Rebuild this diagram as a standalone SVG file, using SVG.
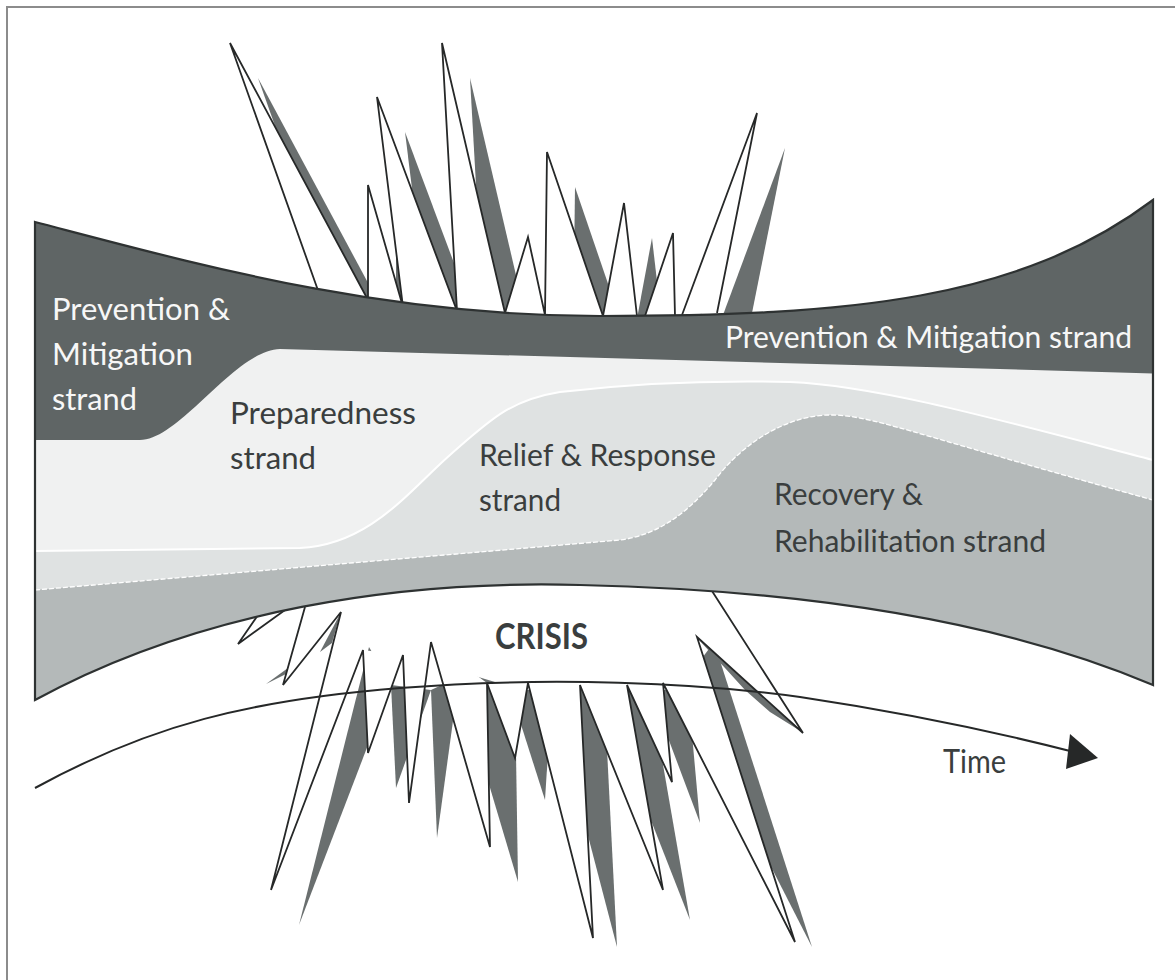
<svg xmlns="http://www.w3.org/2000/svg" width="1175" height="980" viewBox="0 0 1175 980">
<style>
.frame{fill:none;stroke:#8c8c8c;stroke-width:2}
.leg{fill:none;stroke:#262828;stroke-width:1.8}
.outline{fill:none;stroke:#2e3232;stroke-width:2.2}
.shadow{fill:#6a6f6f}
.t{font-family:Lato,"Open Sans","Liberation Sans",sans-serif;font-size:31px;fill:#3a3e3e}
.w{fill:#f7f7f7}
.b{font-weight:bold;font-size:37px}
</style>
<defs>
<g id="utri">
<polygon points="320,296 230,43 368,300"/>
<polygon points="368,300 368,185 403,307"/>
<polygon points="403,307 377,97 457,311"/>
<polygon points="457,311 442,43 505,313"/>
<polygon points="505,313 528,237 545,315"/>
<polygon points="545,315 547,152 603,316"/>
<polygon points="603,316 624,203 637,316"/>
<polygon points="645,316 673,233 675,316"/>
<polygon points="682,315 757,113 717,313"/>
</g>
<g id="ltri">
<polygon points="258,615 238,644 285,610"/>
<polygon points="305,607 283,685 341,612"/>
<polygon points="341,612 271,890 363,650"/>
<polygon points="363,650 368,753 403,655"/>
<polygon points="403,655 409,803 431,642"/>
<polygon points="431,642 490,847 487,683"/>
<polygon points="487,683 515,758 528,683"/>
<polygon points="528,683 593,938 580,685"/>
<polygon points="580,685 663,890 627,685"/>
<polygon points="627,685 672,782 663,683"/>
<polygon points="663,683 795,942 697,637"/>
<polygon points="697,637 803,733 712,591"/>
</g>
<clipPath id="bandclip">
<path d="M35,222 C200,265 380,316 600,316 C850,316 1020,300 1153,200 L1153,685 C1000,620 800,590 580,585 C400,580 200,610 35,700 Z"/>
</clipPath>
</defs>

<path class="frame" d="M7,980 V7 H1175"/>

<g id="upper-spikes">
<use href="#utri" class="shadow" transform="translate(28,35)"/>
<use href="#utri" fill="#ffffff"/>
<polyline class="leg" points="320,296 230,43 368,300 368,185 403,307 377,97 457,311 442,43 505,313 528,237 545,315 547,152 603,316 624,203 637,316"/>
<polyline class="leg" points="645,316 673,233 675,316"/>
<polyline class="leg" points="682,315 757,113 717,313"/>
</g>

<g id="lower-spikes">
<g class="shadow">
<polygon points="266,684 288,668 286,674"/>
<polygon points="340,614 320,652 332,643"/>
<polygon points="369,647 299,925 391,685"/>
<polygon points="391,685 396,788 431,690"/>
<polygon points="431,690 437,838 459,677"/>
<polygon points="455,670 518,882 515,688"/>
<polygon points="510,690 545,800 552,690"/>
<polygon points="550,690 617,947 604,690"/>
<polygon points="600,690 690,920 650,690"/>
<polygon points="650,690 700,823 688,690"/>
<polygon points="680,688 812,947 714,642"/>
</g>
<use href="#ltri" fill="#ffffff"/>
<polygon class="shadow" points="698,639 802,732 770,712 745,690 725,668"/>
<polyline class="leg" points="258,615 238,644 285,610"/>
<polyline class="leg" points="305,607 283,685 341,612 271,890 363,650 368,753 403,655 409,803 431,642 490,847 487,683 515,758 528,683 593,938 580,685 663,890 627,685 672,782 663,683 795,942 697,637 803,733 712,591"/>
</g>

<g id="band">
<g clip-path="url(#bandclip)">
<rect x="0" y="150" width="1175" height="600" fill="#b4b9b9"/>
<path id="relief" d="M0,0 L0,590 L35,590 L620,540 C660,535 690,510 715,480 C745,440 790,415 830,415 C870,415 900,430 1153,500 L1175,500 L1175,0 Z" fill="#dfe2e2"/>
<path id="preparedness" d="M0,0 L0,551 L300,548 C370,545 410,490 450,455 C490,420 510,400 560,392 C620,385 700,380 790,382 C880,386 1000,420 1153,460 L1175,460 L1175,0 Z" fill="#f0f1f1"/>
<path id="prevention" d="M0,0 L0,440 L140,440 C180,440 235,350 280,349 L1175,374 L1175,0 Z" fill="#5f6565"/>
<path d="M35,551 L300,548 C370,545 410,490 450,455 C490,420 510,400 560,392 C620,385 700,380 790,382 C880,386 1000,420 1153,460" fill="none" stroke="#ffffff" stroke-width="2"/>
<path d="M35,590 L620,540 C660,535 690,510 715,480 C745,440 790,415 830,415 C870,415 900,430 1153,500" fill="none" stroke="#ffffff" stroke-width="1.3" stroke-dasharray="5 2"/>
</g>
<path class="outline" d="M35,222 C200,265 380,316 600,316 C850,316 1020,300 1153,200 L1153,685 C1000,620 800,590 580,585 C400,580 200,610 35,700 Z"/>
</g>

<g id="time-arrow">
<path d="M35,788 C150,725 250,700 400,688 C550,676 700,683 800,697 C900,712 1000,733 1074,752" fill="none" stroke="#262828" stroke-width="2"/>
<polygon points="1098,758 1070,734 1066,769" fill="#262828"/>
</g>

<g id="labels">
<text class="t w" x="52" y="320" textLength="178" lengthAdjust="spacingAndGlyphs">Prevention &amp;</text>
<text class="t w" x="52" y="365" textLength="141" lengthAdjust="spacingAndGlyphs">Mitigation</text>
<text class="t w" x="52" y="410" textLength="85" lengthAdjust="spacingAndGlyphs">strand</text>
<text class="t w" x="725" y="348" textLength="407" lengthAdjust="spacingAndGlyphs">Prevention &amp; Mitigation strand</text>
<text class="t" x="230" y="424" textLength="186" lengthAdjust="spacingAndGlyphs">Preparedness</text>
<text class="t" x="230" y="469" textLength="86" lengthAdjust="spacingAndGlyphs">strand</text>
<text class="t" x="479" y="466" textLength="237" lengthAdjust="spacingAndGlyphs">Relief &amp; Response</text>
<text class="t" x="479" y="511" textLength="82" lengthAdjust="spacingAndGlyphs">strand</text>
<text class="t" x="774" y="505" textLength="149" lengthAdjust="spacingAndGlyphs">Recovery &amp;</text>
<text class="t" x="774" y="552" textLength="272" lengthAdjust="spacingAndGlyphs">Rehabilitation strand</text>
<text class="t b" x="495" y="649" textLength="93" lengthAdjust="spacingAndGlyphs">CRISIS</text>
<text class="t" x="943" y="773" textLength="63" lengthAdjust="spacingAndGlyphs" style="font-size:33px">Time</text>
</g>
</svg>
